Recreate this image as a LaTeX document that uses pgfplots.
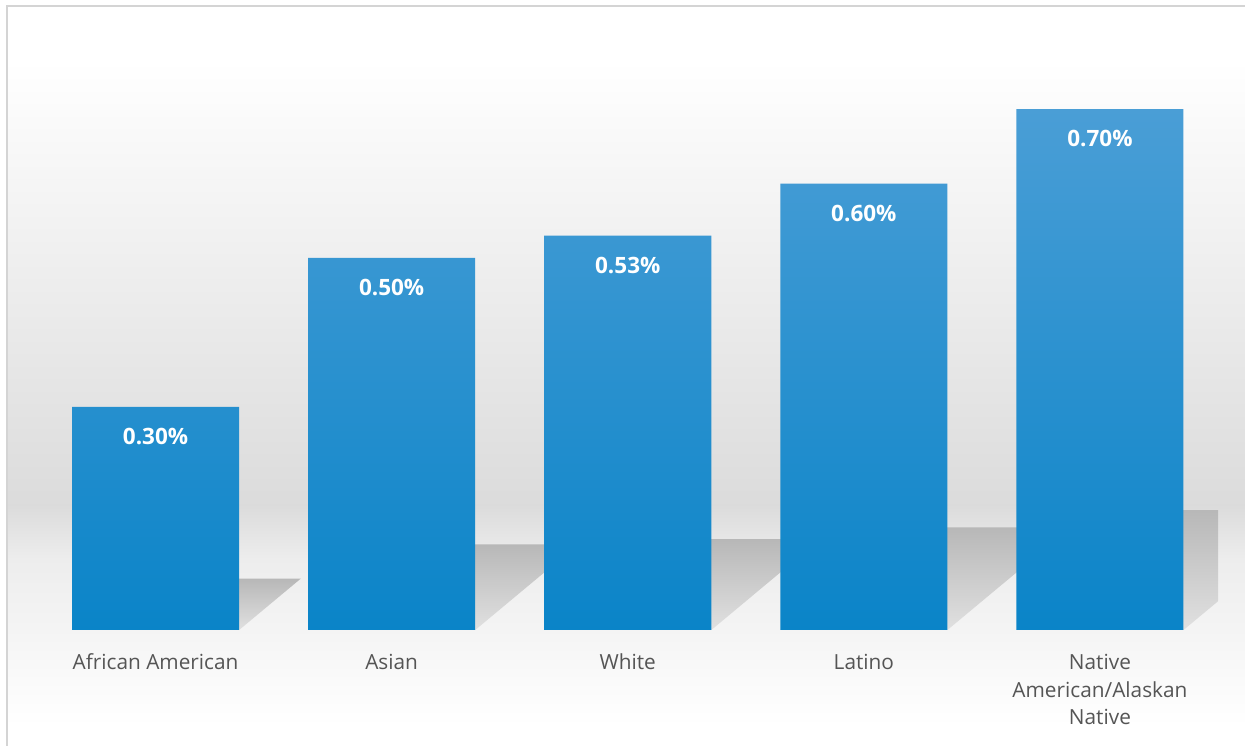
\documentclass[border=0pt]{standalone}
\usepackage{fontspec}
\setmainfont{Open Sans}
\usepackage{pgfplots}
\pgfplotsset{compat=1.18}
\definecolor{bartop}{HTML}{4A9ED6}
\definecolor{barbot}{HTML}{0A84C8}
\definecolor{ticktxt}{HTML}{555555}
\definecolor{framec}{HTML}{D4D4D4}
\begin{document}
\begin{tikzpicture}[x=1pt,y=1pt]
\path[use as bounding box] (0,0) rectangle (1245,746);
% wall and floor gradient
\shade[top color=white, bottom color=black!14] (8,686) rectangle (1245,240);
\shade[top color=black!14, bottom color=black!7] (8,241) rectangle (1245,186);
\shade[top color=black!7, bottom color=black!4] (8,187) rectangle (1245,110);
\shade[top color=black!4, bottom color=white] (8,111) rectangle (1245,20);
\draw[framec, line width=1.5pt] (7,0) -- (7,740) -- (1245,740);
\begin{axis}[
  at={(37.5pt,116pt)}, anchor=south west,
  scale only axis, width=1180.5pt, height=595.2pt,
  xmin=-0.5, xmax=4.5, ymin=0, ymax=0.8,
  axis line style={draw=none},
  major tick length=0pt,
  ytick=\empty,
  xtick={0,1,2,3,4},
  xticklabels={African American,Asian,White,Latino,Native\\American/Alaskan\\Native},
  typeset ticklabels with strut,
  xticklabel style={anchor=north, align=center, inner sep=0pt, yshift=-20.5pt,
    text=ticktxt, font=\fontsize{20.8}{27.5}\selectfont},
]
% perspective shadows behind the bars
\addplot[draw=none, top color=black!28, bottom color=black!12] coordinates {(-0.354,0) (0.354,0) (0.615,0.069) (-0.093,0.069)} -- cycle;
\addplot[draw=none, top color=black!28, bottom color=black!12] coordinates {(0.646,0) (1.354,0) (1.789,0.115) (1.081,0.115)} -- cycle;
\addplot[draw=none, top color=black!28, bottom color=black!12] coordinates {(1.646,0) (2.354,0) (2.815,0.122) (2.107,0.122)} -- cycle;
\addplot[draw=none, top color=black!28, bottom color=black!12] coordinates {(2.646,0) (3.354,0) (3.876,0.138) (3.168,0.138)} -- cycle;
\addplot[draw=none, top color=black!28, bottom color=black!12] coordinates {(3.646,0) (4.354,0) (4.963,0.161) (4.255,0.161)} -- cycle;
% bars
\addplot[ybar, bar width=0.7076, draw=none, top color=bartop, bottom color=barbot,
  point meta=explicit symbolic, nodes near coords,
  nodes near coords style={anchor=north, inner sep=0pt, yshift=-21pt, text=white,
    font=\fontsize{22.5}{26}\selectfont\bfseries}]
  coordinates {(0,0.30)[0.30\%] (1,0.50)[0.50\%] (2,0.53)[0.53\%] (3,0.60)[0.60\%] (4,0.70)[0.70\%]};
\end{axis}
\end{tikzpicture}
\end{document}
